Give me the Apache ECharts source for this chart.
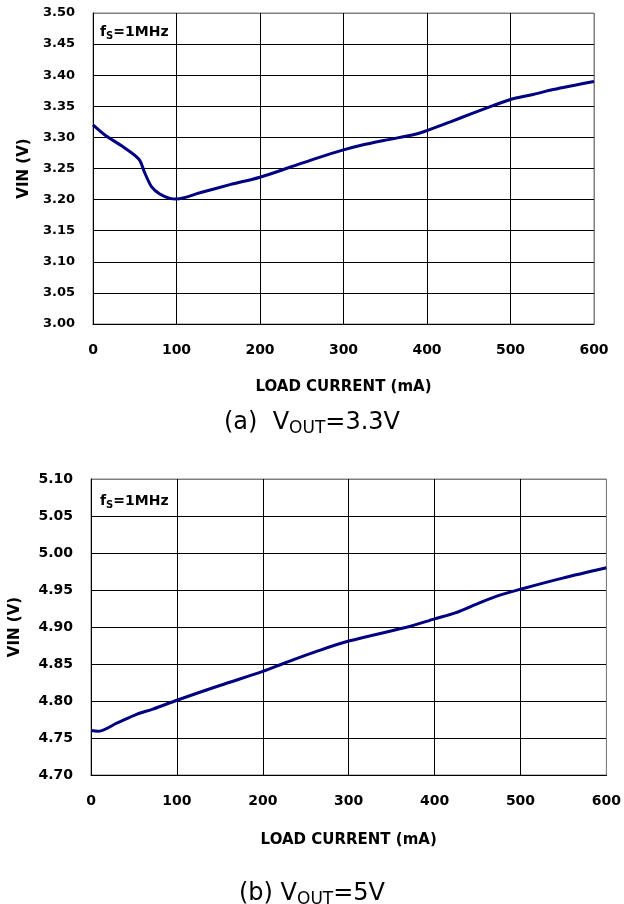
<!DOCTYPE html>
<html>
<head>
<meta charset="UTF-8">
<title>VIN vs Load Current</title>
<script src="https://cdn.jsdelivr.net/npm/echarts@6/dist/echarts.min.js"></script>
<style>
    body { margin: 0; background: #fff; }
    #chart { width: 624px; height: 904px; }
</style>
</head>
<body>
<div id="chart"></div>
<script>
    // (a) VOUT = 3.3V
    const loadA = [0, 15, 36, 55, 62, 70, 80, 92, 100, 128, 164, 200, 236, 271, 300, 320, 352, 386, 400, 428, 455, 479, 500, 527, 551, 600];
    const vinA = [3.320, 3.303, 3.285, 3.265, 3.243, 3.221, 3.209, 3.202, 3.201, 3.211, 3.224, 3.236, 3.252, 3.268, 3.280, 3.287, 3.296, 3.305, 3.311, 3.325, 3.339, 3.351, 3.361, 3.369, 3.377, 3.390];

    // (b) VOUT = 5V
    const loadB = [0, 8, 30, 53, 72, 100, 150, 200, 227, 265, 300, 372, 400, 424, 453, 476, 500, 549, 600];
    const vinB = [4.760, 4.759, 4.770, 4.782, 4.789, 4.801, 4.821, 4.840, 4.852, 4.868, 4.881, 4.901, 4.911, 4.919, 4.933, 4.943, 4.951, 4.966, 4.980];

    const xName = 'LOAD CURRENT (mA)';
    const yName = 'VIN (V)';
    const FONT = '"DejaVu Sans", sans-serif';

    const chart = echarts.init(document.getElementById('chart'));

    function pairs(xs, ys) {
        return xs.map((x, i) => [x, ys[i]]);
    }

    // split line colours: black inside, grey on the outer (top/right) edge
    function edgeColors(n) {
        const c = [];
        for (let i = 0; i < n; i++) c.push(i === n - 1 ? '#808080' : '#000');
        return c;
    }

    function xAxisOf(gridIndex) {
        return {
            type: 'value', gridIndex: gridIndex, min: 0, max: 600, interval: 100,
            name: xName, nameLocation: 'middle', nameGap: gridIndex ? 58 : 56,
            nameTextStyle: { fontFamily: FONT, fontWeight: 'bold', fontSize: 15, color: '#000' },
            axisLine: { lineStyle: { color: '#000', width: 1 } },
            axisTick: { show: false },
            axisLabel: { fontFamily: FONT, fontWeight: 'bold', fontSize: 14, color: '#000', margin: 19 },
            splitLine: { show: true, lineStyle: { color: edgeColors(7), width: 1 } }
        };
    }

    function yAxisOf(gridIndex, min, max, n, size) {
        return {
            type: 'value', gridIndex: gridIndex, min: min, max: max, interval: 0.05,
            name: yName, nameLocation: 'middle', nameGap: gridIndex ? 68 : 61,
            nameTextStyle: { fontFamily: FONT, fontWeight: 'bold', fontSize: 15, color: '#000' },
            axisLine: { show: true, lineStyle: { color: '#000', width: 1 } },
            axisTick: { show: false },
            axisLabel: {
                fontFamily: FONT, fontWeight: 'bold', fontSize: size, color: '#000', margin: 18,
                formatter: v => v.toFixed(2)
            },
            splitLine: { show: true, lineStyle: { color: edgeColors(n), width: 1 } }
        };
    }

    const subRich = {
        sub: { fontFamily: FONT, fontSize: 17, color: '#000', padding: [12, 0, 0, 0] }
    };
    const fsRich = {
        s: { fontFamily: FONT, fontWeight: 'bold', fontSize: 10, color: '#000', padding: [7, 0, 0, 0] }
    };

    chart.setOption({
        backgroundColor: '#fff',
        animation: false,
        title: [
            {
                text: '(a)  V{sub|OUT}=3.3V', left: 'center', top: 403,
                textStyle: { fontFamily: FONT, fontWeight: 'normal', fontSize: 24, color: '#000', rich: subRich }
            },
            {
                text: '(b) V{sub|OUT}=5V', left: 'center', top: 874,
                textStyle: { fontFamily: FONT, fontWeight: 'normal', fontSize: 24, color: '#000', rich: subRich }
            },
            {
                text: 'f{s|S}=1MHz', left: 95, top: 19,
                textStyle: { fontFamily: FONT, fontWeight: 'bold', fontSize: 14, color: '#000', rich: fsRich }
            },
            {
                text: 'f{s|S}=1MHz', left: 95, top: 488,
                textStyle: { fontFamily: FONT, fontWeight: 'bold', fontSize: 14, color: '#000', rich: fsRich }
            }
        ],
        grid: [
            { left: 93, top: 13, width: 501, height: 311, show: true, borderColor: '#808080', borderWidth: 1, backgroundColor: '#fff' },
            { left: 89, top: 479, width: 518, height: 296, show: true, borderColor: '#808080', borderWidth: 1, backgroundColor: '#fff' }
        ],
        xAxis: [xAxisOf(0), xAxisOf(1)],
        yAxis: [
            yAxisOf(0, 3.0, 3.5, 11, 13),
            yAxisOf(1, 4.7, 5.1, 9, 14)
        ],
        series: [
            {
                type: 'line', xAxisIndex: 0, yAxisIndex: 0,
                data: pairs(loadA, vinA), smooth: 0.3, showSymbol: false,
                lineStyle: { color: '#000080', width: 3 }
            },
            {
                type: 'line', xAxisIndex: 1, yAxisIndex: 1,
                data: pairs(loadB, vinB), smooth: 0.3, showSymbol: false,
                lineStyle: { color: '#000080', width: 3 }
            }
        ]
    });
</script>
</body>
</html>
